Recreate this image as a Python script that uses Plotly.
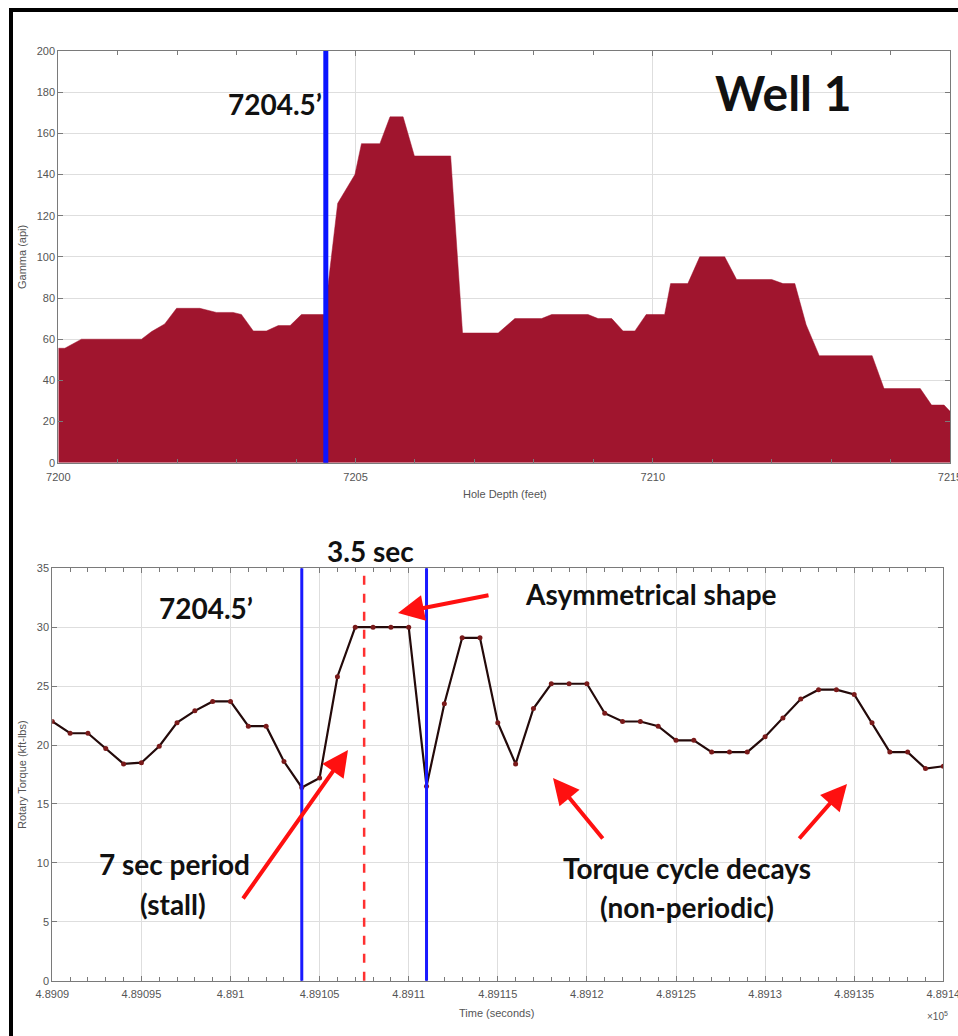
import plotly.graph_objects as go

# ---- Gamma log (Well 1) ----
depth_ft = [7200.0, 7200.11, 7200.39, 7201.40, 7201.57, 7201.79, 7201.99, 7202.38,
            7202.66, 7202.94, 7203.08, 7203.28, 7203.50, 7203.70, 7203.90, 7204.09,
            7204.48, 7204.70, 7204.99, 7205.10, 7205.41, 7205.58, 7205.80, 7205.99,
            7206.60, 7206.80, 7207.40, 7207.68, 7208.13, 7208.30, 7208.91, 7209.08,
            7209.31, 7209.50, 7209.70, 7209.89, 7210.20, 7210.30, 7210.59, 7210.79,
            7211.21, 7211.41, 7212.00, 7212.19, 7212.39, 7212.58, 7212.80, 7213.69,
            7213.89, 7214.50, 7214.69, 7214.90, 7215.0]
gamma_api = [55.6, 55.6, 60, 60, 63.7, 67.4, 75, 75,
             73, 73, 72, 64, 64, 66.6, 66.6, 72,
             72, 126, 140, 155, 155, 168, 168, 149,
             149, 63, 63, 70, 70, 72, 72, 70,
             70, 64, 64, 72, 72, 87, 87, 100,
             100, 89, 89, 87, 87, 67, 52, 52,
             36, 36, 28, 28, 25]
marker_depth = [7204.5]

# ---- Rotary torque, one sample per second ----
time_s = [489090 + i for i in range(51)]
torque_kftlb = [22.0, 21.0, 21.0, 19.7, 18.4, 18.5, 19.9, 21.9, 22.9, 23.7,
                23.7, 21.6, 21.6, 18.6, 16.4, 17.2, 25.8, 30.0, 30.0, 30.0,
                30.0, 16.5, 23.5, 29.1, 29.1, 21.9, 18.4, 23.1, 25.2, 25.2,
                25.2, 22.7, 22.0, 22.0, 21.6, 20.4, 20.4, 19.4, 19.4, 19.4,
                20.7, 22.3, 23.9, 24.7, 24.7, 24.3, 21.9, 19.4, 19.4, 18.0,
                18.2]
stall_bounds = [489104, 489111]
stall_mid = [489107.5]

time_ticks = [489090, 489095, 489100, 489105, 489110, 489115, 489120,
              489125, 489130, 489135, 489140]
time_ticktext = ["4.8909", "4.89095", "4.891", "4.89105", "4.8911", "4.89115",
                 "4.8912", "4.89125", "4.8913", "4.89135", "4.8914"]

W, H = 958, 1036


def px(x):
    return x / W


def py(y):
    return 1 - y / H


fig = go.Figure()

fig.add_trace(go.Scatter(
    x=depth_ft, y=gamma_api, mode="lines", fill="tozeroy",
    fillcolor="#a0152e", line=dict(color="#a0152e", width=0.5),
    xaxis="x", yaxis="y", showlegend=False, hoverinfo="skip"))

fig.add_trace(go.Scatter(
    x=time_s, y=torque_kftlb, mode="lines+markers",
    line=dict(color="#240a0a", width=2.2),
    marker=dict(color="#7a1a1a", size=5),
    xaxis="x2", yaxis="y2", showlegend=False))

tick_font = dict(family="Liberation Sans, Arial", size=11, color="#555555")
axis_common = dict(showline=True, linecolor="#7a7a7a", linewidth=1, mirror="ticks",
                   ticks="inside", tickcolor="#7a7a7a", ticklen=5,
                   gridcolor="#dedede", gridwidth=1, zeroline=False,
                   tickfont=tick_font, automargin=False,
                   ticklabeloverflow="allow")

fig.update_layout(
    width=W, height=H,
    margin=dict(l=0, r=0, t=0, b=0),
    paper_bgcolor="white", plot_bgcolor="white",
    xaxis=dict(domain=[px(58.3), px(950)], anchor="y", range=[7200, 7215],
               tickvals=[7200, 7205, 7210, 7215], showgrid=True,
               ticklabelstandoff=4,
               minor=dict(dtick=1, tick0=7200, ticks="inside", ticklen=4,
                          tickcolor="#7a7a7a", showgrid=False),
               **axis_common),
    yaxis=dict(domain=[py(462.7), py(51)], anchor="x", range=[0, 200],
               dtick=20, showgrid=True, **axis_common),
    xaxis2=dict(domain=[px(52.3), px(943.3)], anchor="y2", range=[489090, 489140],
                tickvals=time_ticks, ticktext=time_ticktext, showgrid=True,
                ticklabelstandoff=3,
                minor=dict(dtick=1, tick0=489090, ticks="inside", ticklen=4,
                           tickcolor="#7a7a7a", showgrid=False),
                **axis_common),
    yaxis2=dict(domain=[py(980.7), py(568.3)], anchor="x2", range=[0, 35],
                dtick=5, showgrid=True, **axis_common),
)

# Depth marker on the gamma log
for d in marker_depth:
    fig.add_shape(type="line", xref="x", yref="y domain", x0=d, x1=d, y0=0, y1=1,
                  line=dict(color="#0a14ff", width=5))

# Stall window bounds and its midpoint
for t in stall_bounds:
    fig.add_shape(type="line", xref="x2", yref="y2 domain", x0=t, x1=t, y0=0, y1=1,
                  line=dict(color="#1a1aff", width=3))
for t in stall_mid:
    fig.add_shape(type="line", xref="x2", yref="y2 domain", x0=t, x1=t, y0=0, y1=1,
                  line=dict(color="#ff3030", width=2.5, dash="dash"))

# Outer frame
fig.add_shape(type="rect", xref="paper", yref="paper",
              x0=px(11), x1=px(990), y0=py(1060), y1=py(10),
              line=dict(color="black", width=4), fillcolor="rgba(0,0,0,0)")

label_font = dict(family="Liberation Sans, Arial", size=11, color="#555555")
big = dict(family="Lato, Open Sans, sans-serif", size=28, color="#111111")


def text(x, y, s, font, angle=0):
    fig.add_annotation(x=px(x), y=py(y), xref="paper", yref="paper", text=s,
                       showarrow=False, font=font, textangle=angle,
                       xanchor="center", yanchor="middle")


# Axis titles
text(22, 257, "Gamma (api)", label_font, -90)
text(505, 494, "Hole Depth (feet)", label_font)
text(22, 775, "Rotary Torque (kft-lbs)", label_font, -90)
text(497, 1013, "Time (seconds)", label_font)
text(937, 1016, "×10<sup>5</sup>", dict(family="Liberation Sans, Arial", size=10,
                                        color="#555555"))

# Callout text
text(275, 104, "<b>7204.5’</b>", big)
text(783, 92, "<b>Well 1</b>", dict(family="Lato, Open Sans, sans-serif", size=48,
                                    color="#111111"))
text(370, 551, "<b>3.5 sec</b>", big)
text(206, 608, "<b>7204.5’</b>", big)
text(651, 594, "<b>Asymmetrical shape</b>", big)
text(174, 864, "<b>7 sec period</b>", big)
text(173, 904, "<b>(stall)</b>", big)
text(687, 868, "<b>Torque cycle decays</b>", big)
text(687, 907, "<b>(non-periodic)</b>", big)

# Red arrows: (head_x, head_y, tail offset dx, dy) in pixels
arrows = [(398, 613, 92, -18), (348, 750, -106, 150),
          (553, 778, 51, 62), (847, 784, -49, 56)]
for hx, hy, dx, dy in arrows:
    fig.add_annotation(x=px(hx), y=py(hy), xref="paper", yref="paper", text="",
                       showarrow=True, ax=dx, ay=dy, arrowhead=2, arrowsize=1.3,
                       arrowwidth=4, arrowcolor="#ff1010")

fig.write_html("out.html")
